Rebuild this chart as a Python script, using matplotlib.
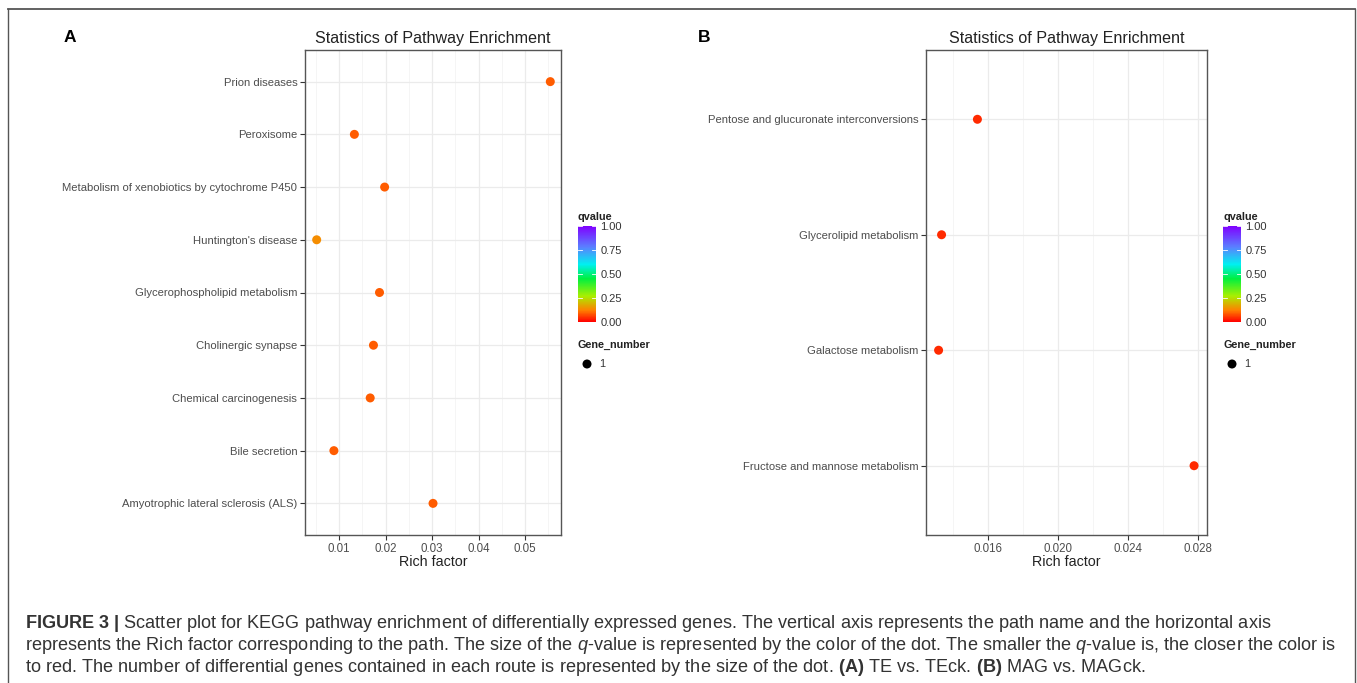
import matplotlib
matplotlib.use("Agg")
import matplotlib.pyplot as plt
import numpy as np
from matplotlib.colors import LinearSegmentedColormap, Normalize
from matplotlib.cm import ScalarMappable
from matplotlib.ticker import MultipleLocator

plt.rcParams['font.family'] = ['Liberation Sans', 'DejaVu Sans']
plt.rcParams['mathtext.fontset'] = 'custom'
plt.rcParams['mathtext.rm'] = 'Liberation Sans'
plt.rcParams['mathtext.it'] = 'Liberation Sans:italic'
plt.rcParams['mathtext.bf'] = 'Liberation Sans:bold'

# ---------------- data ----------------
pathways_a = ["Amyotrophic lateral sclerosis (ALS)", "Bile secretion", "Chemical carcinogenesis",
              "Cholinergic synapse", "Glycerophospholipid metabolism", "Huntington's disease",
              "Metabolism of xenobiotics by cytochrome P450", "Peroxisome", "Prion diseases"]
rich_a = [0.0302, 0.0089, 0.0167, 0.0174, 0.0187, 0.0052, 0.0198, 0.0133, 0.0554]
qvalue_a = [0.088, 0.088, 0.088, 0.088, 0.088, 0.14, 0.088, 0.088, 0.088]
genes_a = [1, 1, 1, 1, 1, 1, 1, 1, 1]

pathways_b = ["Fructose and mannose metabolism", "Galactose metabolism",
              "Glycerolipid metabolism", "Pentose and glucuronate interconversions"]
rich_b = [0.02779, 0.01318, 0.01335, 0.0154]
qvalue_b = [0.04, 0.04, 0.04, 0.04]
genes_b = [1, 1, 1, 1]

xticks_a = [0.01, 0.02, 0.03, 0.04, 0.05]
xticklabels_a = ["0.01", "0.02", "0.03", "0.04", "0.05"]
xticks_b = [0.016, 0.020, 0.024, 0.028]
xticklabels_b = ["0.016", "0.020", "0.024", "0.028"]
cbar_ticks = [0.0, 0.25, 0.5, 0.75, 1.0]
cbar_ticklabels = ["0.00", "0.25", "0.50", "0.75", "1.00"]

W, H = 1357, 683
fig = plt.figure(figsize=(W / 100, H / 100), dpi=100)
fig.patch.set_facecolor("white")

def px_axes(left, top, right, bottom):
    return fig.add_axes([left / W, (H - bottom) / H, (right - left) / W, (bottom - top) / H])

cmap = LinearSegmentedColormap.from_list("rb", [
    (0.0, "#FF0000"), (0.12, "#FF8000"), (0.27, "#A8F000"), (0.45, "#00F040"),
    (0.6, "#00F0F0"), (0.78, "#5A80FF"), (1.0, "#8000FF")])
norm = Normalize(0, 1)

BORDER = "#555555"
GRID_MAJ = "#EBEBEB"
GRID_MIN = "#F4F4F4"
TXT = "#4D4D4D"

def panel(ax, names, rich, q, genes, xlim, xticks, xticklabels, minor):
    ypos = np.arange(1, len(names) + 1)
    ax.set_xlim(*xlim)
    ax.set_ylim(0.4, len(names) + 0.6)
    ax.set_axisbelow(True)
    ax.xaxis.set_minor_locator(MultipleLocator(minor))
    ax.grid(which="major", color=GRID_MAJ, lw=0.9)
    ax.grid(which="minor", axis="x", color=GRID_MIN, lw=0.6)
    ax.scatter(rich, ypos, c=q, cmap=cmap, norm=norm, s=[42 * g for g in genes],
               edgecolors="none", zorder=3)
    ax.set_yticks(ypos)
    ax.set_yticklabels(names, fontsize=8.1, color=TXT)
    ax.set_xticks(xticks)
    ax.set_xticklabels(xticklabels, fontsize=8.3, color=TXT)
    ax.tick_params(axis="both", which="major", length=3.5, width=0.8, color="#333333", pad=2)
    ax.tick_params(axis="x", which="minor", length=0)
    for sp in ax.spines.values():
        sp.set_color(BORDER)
        sp.set_linewidth(1.0)
    ax.set_xlabel("Rich factor", fontsize=10.3, color="#222222", labelpad=0)
    ax.set_title("Statistics of Pathway Enrichment", fontsize=11.6, color="#222222", pad=5)

axA = px_axes(305, 50, 561, 535)
panel(axA, pathways_a, rich_a, qvalue_a, genes_a, (0.00269, 0.0577),
      xticks_a, xticklabels_a, 0.005)
axB = px_axes(926, 50, 1207, 535)
panel(axB, pathways_b, rich_b, qvalue_b, genes_b, (0.01246, 0.02853),
      xticks_b, xticklabels_b, 0.002)

def legend(x0):
    cax = px_axes(x0, 226, x0 + 18, 322)
    cb = fig.colorbar(ScalarMappable(norm=norm, cmap=cmap), cax=cax)
    cb.outline.set_visible(False)
    cb.set_ticks(cbar_ticks)
    cb.set_ticklabels(cbar_ticklabels)
    cax.tick_params(length=0, labelsize=8, labelcolor="#333333", pad=3)
    for t in cbar_ticks:
        cax.plot([0, 0.2], [t, t], color="white", lw=0.6, transform=cax.get_yaxis_transform())
        cax.plot([0.8, 1.0], [t, t], color="white", lw=0.6, transform=cax.get_yaxis_transform())
    fig.text(x0 / W, 1 - 217 / H, "qvalue", fontsize=7.8, fontweight="bold",
             color="#222222", va="center", ha="left")
    fig.text(x0 / W, 1 - 345 / H, "Gene_number", fontsize=7.8, fontweight="bold",
             color="#222222", va="center", ha="left")
    lax = px_axes(x0, 356, x0 + 20, 372)
    lax.set_axis_off()
    lax.set_xlim(0, 1); lax.set_ylim(0, 1)
    lax.scatter([0.45], [0.5], s=[42 * genes_a[0]], color="black", edgecolors="none")
    fig.text((x0 + 21) / W, 1 - 364 / H, "1", fontsize=7.8, color="#333333",
             va="center", ha="left")

legend(578)
legend(1223)

fig.text(64 / W, 1 - 37 / H, "A", fontsize=12.5, fontweight="bold", va="center", ha="left")
fig.text(698 / W, 1 - 37 / H, "B", fontsize=12.5, fontweight="bold", va="center", ha="left")

# outer frame
fr = "#555555"
fig.add_artist(plt.Line2D([8 / W, 1355 / W], [1 - 9 / H, 1 - 9 / H], color=fr, lw=1.3))
fig.add_artist(plt.Line2D([8 / W, 8 / W], [0, 1 - 9 / H], color=fr, lw=1.0))
fig.add_artist(plt.Line2D([1355 / W, 1355 / W], [0, 1 - 9 / H], color=fr, lw=1.0))

cap = [
    r"$\bf{FIGURE\ 3\ |}$ Scatter plot for KEGG pathway enrichment of differentially expressed genes. The vertical axis represents the path name and the horizontal axis",
    r"represents the Rich factor corresponding to the path. The size of the $\it{q}$-value is represented by the color of the dot. The smaller the $\it{q}$-value is, the closer the color is",
    r"to red. The number of differential genes contained in each route is represented by the size of the dot. $\bf{(A)}$ TE vs. TEck. $\bf{(B)}$ MAG vs. MAGck.",
]
for i, line in enumerate(cap):
    fig.text(25 / W, 1 - (623 + 22.5 * i) / H, line, fontsize=13.1, color="#333333",
             va="center", ha="left")

fig.savefig("out.png", dpi=100, facecolor="white")
